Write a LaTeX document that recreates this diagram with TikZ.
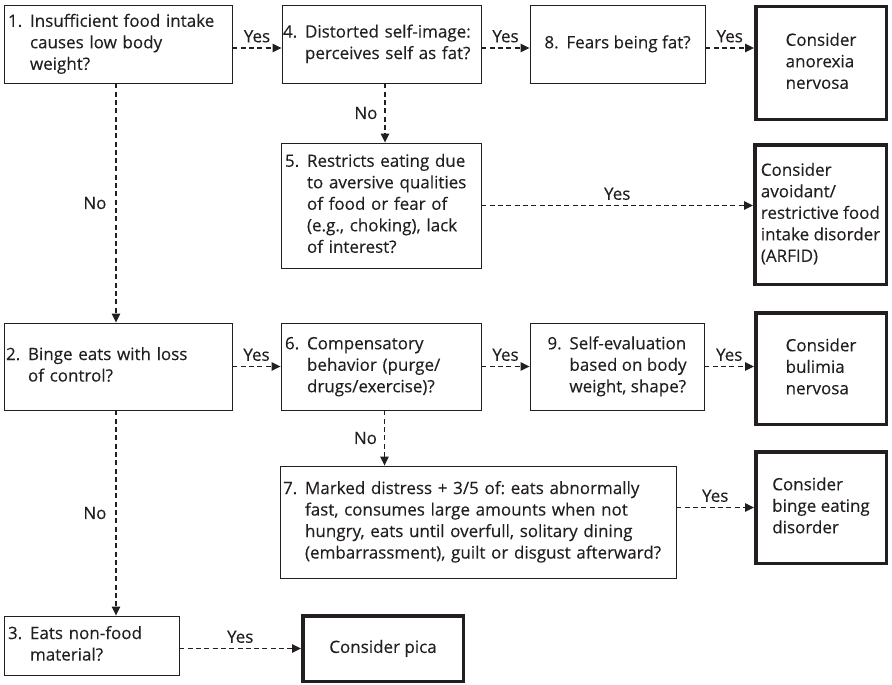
\documentclass[tikz,border=0pt]{standalone}
\usepackage{fontspec}
\setmainfont{Open Sans}[FakeBold=0.25]
\usetikzlibrary{arrows.meta}
\definecolor{ink}{HTML}{231F20}
\frenchspacing
% numbered question: number in a fixed-width column, wrapped lines hang after it
\newcommand{\numq}[2]{\begin{tabular}{@{}l@{}l@{}}\makebox[22pt][l]{#1}&\begin{tabular}[t]{@{}l@{}}#2\end{tabular}\end{tabular}}
\newcommand{\lines}[1]{\begin{tabular}{@{}l@{}}#1\end{tabular}}
\begin{document}
\begin{tikzpicture}[x=1pt,y=-1pt,
  font=\fontsize{17}{21.5}\selectfont,
  every node/.style={text=ink},
  q/.style={draw=ink, line width=0.9pt, rectangle, inner xsep=4pt, inner ysep=2pt, align=left},
  dx/.style={draw=ink, line width=3.5pt, rectangle, inner sep=2pt, align=left},
  arr/.style={draw=ink, line width=1.1pt, dash pattern=on 5pt off 3.3pt,
              -{Triangle[length=9pt,width=8.5pt]}},
  lab/.style={inner sep=1pt}]
\useasboundingbox (0,0) rectangle (892,685);

% question boxes
\node[q, minimum width=228pt, minimum height=78pt, text width=220pt] (n1) at (118,44)
  {\numq{1.}{Insufficient food intake\\causes low body\\weight?}};
\node[q, minimum width=199pt, minimum height=78pt, inner xsep=1pt, text width=197pt] (n4) at (381.5,44)
  {\numq{4.}{Distorted self-image:\\perceives self as fat?}};
\node[q, minimum width=175pt, minimum height=78pt] (n8) at (617.5,44)
  {\numq{8.}{Fears being fat?}};
\node[q, minimum width=200pt, minimum height=125pt, text width=192pt] (n5) at (381,205.5)
  {\numq{5.}{Restricts eating due\\to aversive qualities\\of food or fear of\\(e.g., choking), lack\\of interest?}};
\node[q, minimum width=228pt, minimum height=87pt, inner xsep=2pt, text width=224pt] (n2) at (118,366.5)
  {\numq{2.}{Binge eats with loss\\of control?}};
\node[q, minimum width=200pt, minimum height=87pt, text width=192pt] (n6) at (381,366.5)
  {\numq{6.}{Compensatory\\behavior (purge/\\drugs/exercise)?}};
\node[q, minimum width=174pt, minimum height=87pt] (n9) at (617,366.5)
  {\numq{9.}{Self-evaluation\\based on body\\weight, shape?}};
\node[q, minimum width=396pt, minimum height=112pt, inner xsep=3pt, text width=390pt] (n7) at (478,522)
  {\numq{7.}{Marked distress + 3/5 of: eats abnormally\\fast, consumes large amounts when not\\hungry, eats until overfull, solitary dining\\(embarrassment), guilt or disgust afterward?}};
\node[q, minimum width=175pt, minimum height=59pt, text width=167pt] (n3) at (91.5,645.5)
  {\numq{3.}{Eats non-food\\material?}};

% outcome boxes
\node[dx, minimum width=130.5pt, minimum height=112.5pt] (an) at (821,63)
  {\lines{Consider\\anorexia\\nervosa}};
\node[dx, minimum width=131.5pt, minimum height=139.5pt] (ar) at (820.5,214.5)
  {\lines{Consider\\avoidant/\\restrictive food\\intake disorder\\(ARFID)}};
\node[dx, minimum width=130.5pt, minimum height=111.5pt] (bu) at (821,368.5)
  {\lines{Consider\\bulimia\\nervosa}};
\node[dx, minimum width=130.5pt, minimum height=111.5pt] (be) at (821,507.5)
  {\lines{Consider\\binge eating\\disorder}};
\node[dx, minimum width=160.5pt, minimum height=65.5pt] (pi) at (383,648.5)
  {Consider pica};

% connection points off the box centres
\coordinate (o1) at ([yshift=-4pt]n1.east);
\coordinate (o4) at ([yshift=-4pt]n4.east);
\coordinate (o8) at ([yshift=-4pt]n8.east);
\coordinate (d4) at ([xshift=3.5pt]n4.south);
\coordinate (d6) at ([xshift=3.5pt]n6.south);
\coordinate (d1) at ([xshift=-2pt]n1.south);
\coordinate (d2) at ([xshift=-2pt]n2.south);

% Yes branches
\draw[arr] (o1) -- node[lab, above=4pt]{Yes} (o1 -| n4.west);
\draw[arr] (o4) -- node[lab, above=4pt]{Yes} (o4 -| n8.west);
\draw[arr] (o8) -- node[lab, above=4pt]{Yes} (o8 -| an.west);
\draw[arr] (n5.east) -- node[lab, above=4pt]{Yes} (n5.east -| ar.west);
\draw[arr] (n2.east) -- node[lab, above=4pt]{Yes} (n2.east -| n6.west);
\draw[arr] (n6.east) -- node[lab, above=4pt]{Yes} (n6.east -| n9.west);
\draw[arr] (n9.east) -- node[lab, above=4pt]{Yes} (n9.east -| bu.west);
\draw[arr] (n7.east |- be.west) -- node[lab, above=4pt]{Yes} (be.west);
\draw[arr] (n3.east |- pi.west) -- node[lab, above=4pt]{Yes} (pi.west);

% No branches
\draw[arr] (d1) -- node[lab, left=8pt]{No} (d1 |- n2.north);
\draw[arr] (d2) -- node[lab, left=8pt]{No} (d2 |- n3.north);
\draw[arr] (d4) -- node[lab, left=6pt]{No} (d4 |- n5.north);
\draw[arr] (d6) -- node[lab, left=6pt]{No} (d6 |- n7.north);
\end{tikzpicture}
\end{document}
